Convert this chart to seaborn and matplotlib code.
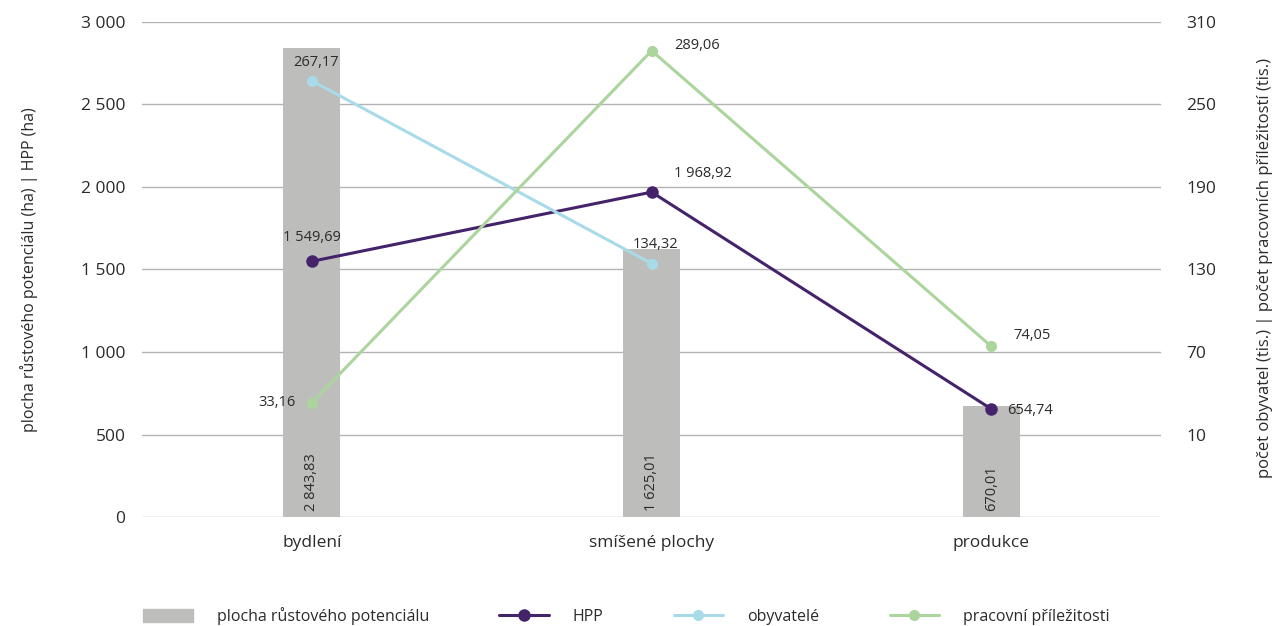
import numpy as np
import pandas as pd
import seaborn as sns
import matplotlib.pyplot as plt
from matplotlib.lines import Line2D
from matplotlib.patches import Patch

# --- data ---
kategorie = ["bydlení", "smíšené plochy", "produkce"]
plocha = [2843.83, 1625.01, 670.01]
hpp = [1549.69, 1968.92, 654.74]
obyvatele = [267.17, 134.32, None]
prac_prilezitosti = [33.16, 289.06, 74.05]

left_ticks = [0, 500, 1000, 1500, 2000, 2500, 3000]
right_ticks = [10, 70, 130, 190, 250, 310]

C_BAR = "#bdbdbb"
C_HPP = "#45236b"
C_OBY = "#a8dbe7"
C_PRAC = "#acd59e"
C_TXT = "#2b2b2b"


def fmt(v, dec=2):
    s = f"{v:,.{dec}f}"
    return s.replace(",", " ").replace(".", ",")


sns.set_theme(style="white")
plt.rcParams["font.family"] = ["Open Sans", "DejaVu Sans"]
plt.rcParams["text.color"] = C_TXT

df = pd.DataFrame({"kat": kategorie, "plocha": plocha, "hpp": hpp,
                   "oby": obyvatele, "prac": prac_prilezitosti})
df["x"] = np.arange(len(df))

fig = plt.figure(figsize=(12.74, 6.26), dpi=100)
ax = fig.add_axes([0.1115, 0.174, 0.8, 0.791])

ax.set_axisbelow(True)
ax.yaxis.grid(True, color="#b3b3b3", linewidth=1)
sns.barplot(data=df, x="x", y="plocha", color=C_BAR, width=0.168,
            saturation=1, ax=ax, native_scale=True, zorder=2, linewidth=0)
sns.lineplot(data=df, x="x", y="hpp", color=C_HPP, linewidth=2.2,
             marker="o", markersize=9, markeredgewidth=0, ax=ax, zorder=4)

ax2 = ax.twinx()
d_oby = df.dropna(subset=["oby"])
sns.lineplot(data=d_oby, x="x", y="oby", color=C_OBY, linewidth=2.2,
             marker="o", markersize=8, markeredgewidth=0, ax=ax2)
sns.lineplot(data=df, x="x", y="prac", color=C_PRAC, linewidth=2.2,
             marker="o", markersize=8, markeredgewidth=0, ax=ax2)

ax.set_xlim(-0.5, 2.5)
ax.set_ylim(0, 3000)
ax2.set_ylim(-50, 310)
ax.set_yticks(left_ticks)
ax.set_yticklabels([fmt(t, 0) for t in left_ticks])
ax2.set_yticks(right_ticks)
ax2.set_yticklabels([str(t) for t in right_ticks])
ax.set_xticks(df["x"])
ax.set_xticklabels(kategorie)

for a in (ax, ax2):
    for s in a.spines.values():
        s.set_visible(False)
    a.tick_params(length=0, labelsize=12.5, colors=C_TXT)
ax.tick_params(axis="y", pad=12)
ax.tick_params(axis="x", pad=13)
ax2.tick_params(axis="y", pad=18)

ax.set_xlabel("")
ax.set_ylabel("plocha růstového potenciálu (ha) | HPP (ha)", fontsize=11.5,
              labelpad=31, color=C_TXT)
ax2.set_ylabel("")
fig.text(0.993, 0.572, "počet obyvatel (tis.) | počet pracovních příležitostí (tis.)",
         rotation=90, ha="center", va="center", fontsize=12, color=C_TXT)

lab = dict(fontsize=10.5, color=C_TXT)
# popisky sloupců (svisle uvnitř)
for xi, v in zip(df["x"], plocha):
    ax.text(xi, 35, fmt(v), rotation=90, ha="center", va="bottom", zorder=5, **lab)
# HPP
ax.annotate(fmt(hpp[0]), (0, hpp[0]), xytext=(0, 12), textcoords="offset points",
            ha="center", va="bottom", **lab)
ax.annotate(fmt(hpp[1]), (1, hpp[1]), xytext=(16, 8), textcoords="offset points",
            ha="left", va="bottom", **lab)
ax.annotate(fmt(hpp[2]), (2, hpp[2]), xytext=(11, -1), textcoords="offset points",
            ha="left", va="center", **lab)
# obyvatelé
for xi, v in zip(d_oby["x"], d_oby["oby"]):
    ax2.annotate(fmt(v), (xi, v), xytext=(3, 8), textcoords="offset points",
                 ha="center", va="bottom", **lab)
# pracovní příležitosti
ax2.annotate(fmt(prac_prilezitosti[0]), (0, prac_prilezitosti[0]), xytext=(-12, 0),
             textcoords="offset points", ha="right", va="center", **lab)
ax2.annotate(fmt(prac_prilezitosti[1]), (1, prac_prilezitosti[1]), xytext=(16, 4),
             textcoords="offset points", ha="left", va="center", **lab)
ax2.annotate(fmt(prac_prilezitosti[2]), (2, prac_prilezitosti[2]), xytext=(16, 8),
             textcoords="offset points", ha="left", va="center", **lab)

handles = [
    Patch(color=C_BAR, label="plocha růstového potenciálu"),
    Line2D([], [], color=C_HPP, lw=2.2, marker="o", ms=9, mew=0, label="HPP"),
    Line2D([], [], color=C_OBY, lw=2.2, marker="o", ms=8, mew=0, label="obyvatelé"),
    Line2D([], [], color=C_PRAC, lw=2.2, marker="o", ms=8, mew=0, label="pracovní příležitosti"),
]
fig.legend(handles=handles, loc="center left", bbox_to_anchor=(0.101, 0.016),
           ncol=4, frameon=False, fontsize=11.5, handlelength=3.1, handleheight=0.8,
           handletextpad=1.5, columnspacing=4.4)

fig.savefig("out.png", dpi=100)
